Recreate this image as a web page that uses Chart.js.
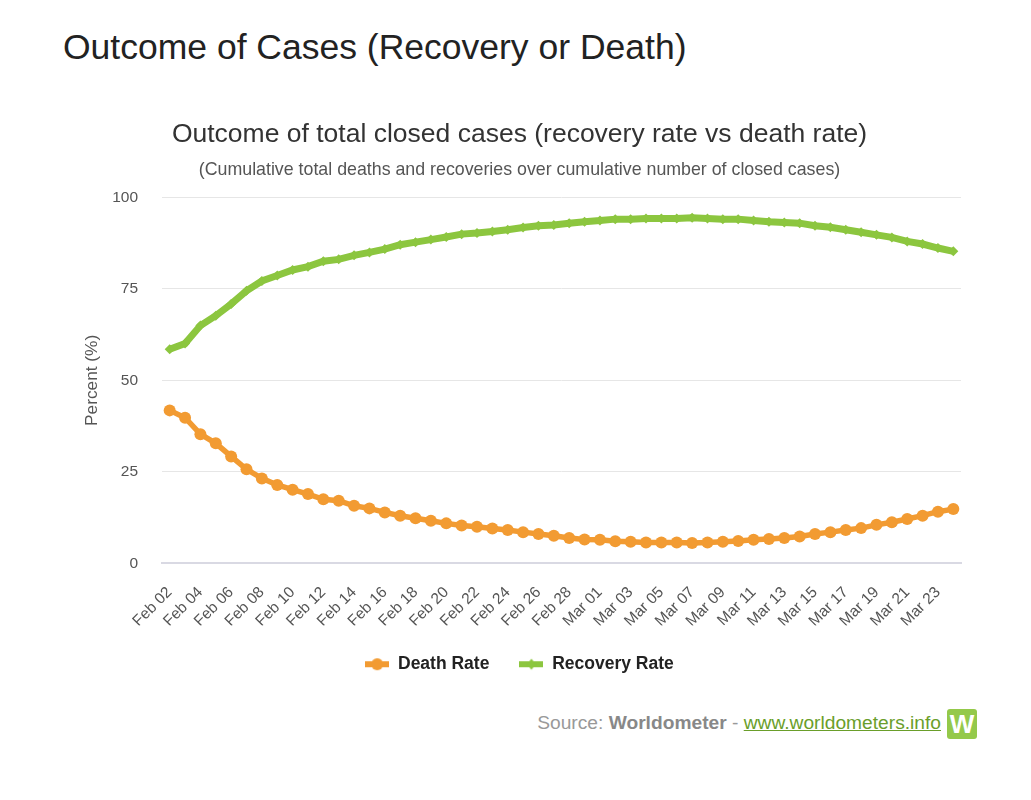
<!DOCTYPE html>
<html>
<head>
<meta charset="utf-8">
<script src="https://cdn.jsdelivr.net/npm/chart.js@4/dist/chart.umd.min.js"></script>
<style>
  html, body { margin: 0; padding: 0; background: #fff; width: 1031px; height: 800px; overflow: hidden; font-family: "Liberation Sans", Arial, sans-serif; }
  #heading { position: absolute; left: 63px; top: 27px; margin: 0; font-size: 35.5px; line-height: 40px; font-weight: normal; color: #222; white-space: nowrap; }
  #wrap { position: absolute; left: 60px; top: 115px; width: 920px; height: 580px; }
  #source { position: absolute; right: 90px; top: 711px; font-size: 19.2px; line-height: 24px; color: #999; white-space: nowrap; }
  #source b { color: #888; }
  #source a { color: #6a9e2a; text-decoration: underline; }
  #logo { position: absolute; left: 947px; top: 709px; width: 30px; height: 30px; background: #94c94a; border-radius: 3px; color: #fff; font-weight: bold; font-size: 26px; line-height: 30px; text-align: center; }
</style>
</head>
<body>
<h1 id="heading">Outcome of Cases (Recovery or Death)</h1>
<div id="wrap"><canvas id="c"></canvas></div>
<div id="source">Source: <b>Worldometer</b> - <a>www.worldometers.info</a></div>
<div id="logo">W</div>
<script>
const categories = [
  "Feb 02","Feb 03","Feb 04","Feb 05","Feb 06","Feb 07","Feb 08","Feb 09","Feb 10","Feb 11",
  "Feb 12","Feb 13","Feb 14","Feb 15","Feb 16","Feb 17","Feb 18","Feb 19","Feb 20","Feb 21",
  "Feb 22","Feb 23","Feb 24","Feb 25","Feb 26","Feb 27","Feb 28","Feb 29","Mar 01","Mar 02",
  "Mar 03","Mar 04","Mar 05","Mar 06","Mar 07","Mar 08","Mar 09","Mar 10","Mar 11","Mar 12",
  "Mar 13","Mar 14","Mar 15","Mar 16","Mar 17","Mar 18","Mar 19","Mar 20","Mar 21","Mar 22",
  "Mar 23","Mar 24"
];
const deathRate = [
  41.8, 39.8, 35.3, 32.8, 29.2, 25.7, 23.2, 21.4, 20.1, 18.9,
  17.5, 17.1, 15.7, 15.0, 13.9, 13.0, 12.3, 11.6, 10.9, 10.3,
  10.0, 9.5, 9.1, 8.5, 8.0, 7.5, 6.9, 6.5, 6.4, 6.0,
  5.9, 5.7, 5.7, 5.7, 5.5, 5.7, 5.9, 6.1, 6.4, 6.6,
  6.9, 7.3, 8.0, 8.5, 9.1, 9.6, 10.5, 11.2, 12.1, 13.0,
  14.1, 14.8
];
const recoveryRate = [
  58.5, 60.1, 65.0, 67.7, 70.9, 74.5, 77.2, 78.7, 80.2, 81.1,
  82.6, 83.1, 84.2, 85.0, 85.9, 87.1, 87.8, 88.5, 89.2, 90.0,
  90.3, 90.7, 91.2, 91.8, 92.3, 92.5, 93.0, 93.4, 93.7, 94.1,
  94.1, 94.3, 94.3, 94.3, 94.5, 94.3, 94.1, 94.1, 93.7, 93.4,
  93.2, 93.0, 92.3, 91.9, 91.2, 90.5, 89.8, 89.1, 88.0, 87.3,
  86.2, 85.3
];
const yTicks = [0, 25, 50, 75, 100];

const ORANGE = '#f29b32';
const GREEN = '#8cc63f';
const FONT = '"Liberation Sans", Arial, sans-serif';

function legendMarker(color, style) {
  const cv = document.createElement('canvas');
  cv.width = 24; cv.height = 14;
  const g = cv.getContext('2d');
  g.strokeStyle = color; g.fillStyle = color; g.lineWidth = 6;
  g.beginPath(); g.moveTo(0, 7); g.lineTo(24, 7); g.stroke();
  g.beginPath();
  if (style === 'circle') { g.arc(12, 7, 6, 0, Math.PI * 2); }
  else { g.moveTo(12, 1.5); g.lineTo(16.5, 7); g.lineTo(12, 12.5); g.lineTo(7.5, 7); g.closePath(); }
  g.fill();
  return cv;
}
const markers = [legendMarker(ORANGE, 'circle'), legendMarker(GREEN, 'diamond')];

new Chart(document.getElementById('c'), {
  type: 'line',
  data: {
    labels: categories,
    datasets: [
      { label: 'Death Rate', data: deathRate, borderColor: ORANGE, backgroundColor: ORANGE,
        borderWidth: 5.5, pointRadius: 6, pointHoverRadius: 6, pointStyle: 'circle', pointBorderWidth: 0, tension: 0 },
      { label: 'Recovery Rate', data: recoveryRate, borderColor: GREEN, backgroundColor: GREEN,
        borderWidth: 7, pointRadius: 5, pointHoverRadius: 5, pointStyle: 'rectRot', pointBorderWidth: 0, tension: 0 }
    ]
  },
  options: {
    responsive: true,
    maintainAspectRatio: false,
    animation: false,
    layout: { padding: { left: 18, right: 19, top: 0, bottom: 12 } },
    plugins: {
      title: { display: true, text: 'Outcome of total closed cases (recovery rate vs death rate)',
        color: '#333', font: { family: FONT, size: 26.5, weight: 'normal' },
        padding: { top: 4, bottom: 4 } },
      subtitle: { display: true, text: '(Cumulative total deaths and recoveries over cumulative number of closed cases)',
        color: '#555', font: { family: FONT, size: 17.8, weight: 'normal' },
        padding: { top: 4.4, bottom: 17 } },
      legend: { position: 'bottom',
        labels: { usePointStyle: true, pointStyleWidth: 24, boxHeight: 14, padding: 30,
          color: '#222', font: { family: FONT, size: 17.5, weight: 'bold' },
          generateLabels: (chart) => chart.data.datasets.map((ds, i) => ({
            text: ds.label, pointStyle: markers[i], fillStyle: ds.borderColor, strokeStyle: ds.borderColor,
            lineWidth: 0, hidden: false, datasetIndex: i, fontColor: '#222'
          }))
        } },
      tooltip: { enabled: false }
    },
    scales: {
      x: {
        offset: true,
        grid: { display: false, drawTicks: false },
        border: { display: true, color: '#d9d9e3', width: 2 },
        afterFit: (axis) => { axis.height -= 25; },
        ticks: { autoSkip: false, maxRotation: 45, minRotation: 45, padding: 20, color: '#555',
          font: { family: FONT, size: 15.5 },
          callback: function (v, i) { return i % 2 === 0 ? categories[i] : null; } }
      },
      y: {
        min: 0, max: 100,
        afterBuildTicks: (axis) => { axis.ticks = yTicks.map(v => ({ value: v })); },
        afterFit: (axis) => { axis.width = 84; },
        grid: { color: '#e6e6e6', lineWidth: 1, drawTicks: false },
        border: { display: false },
        ticks: { padding: 24, color: '#555', font: { family: FONT, size: 15.5 } },
        title: { display: true, text: 'Percent (%)', color: '#555',
          font: { family: FONT, size: 17.3 }, padding: { top: 4, bottom: 4 } }
      }
    }
  }
});
</script>
</body>
</html>
